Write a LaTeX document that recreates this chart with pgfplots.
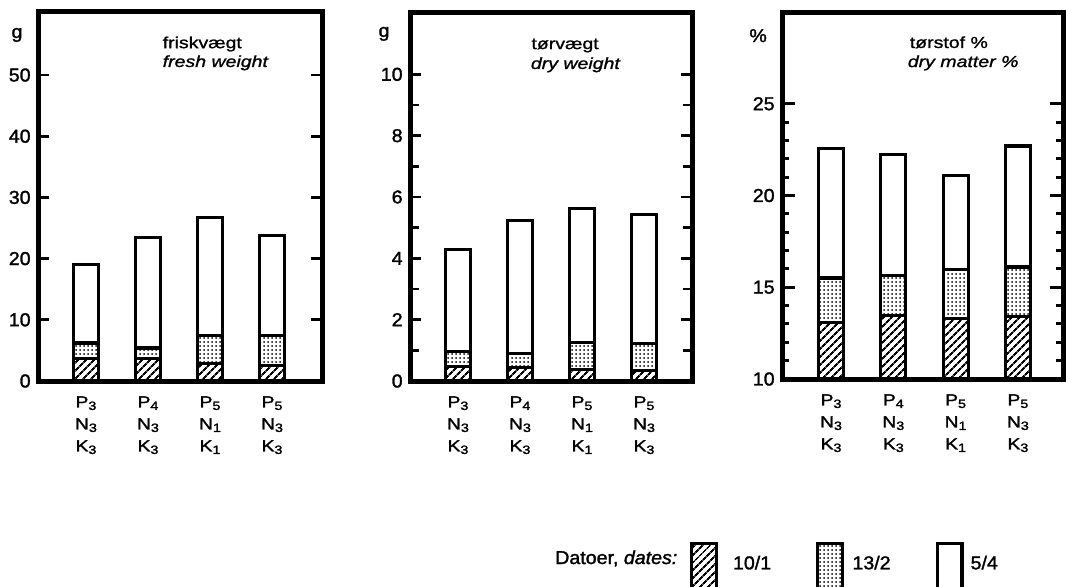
\documentclass[border=0pt]{standalone}
\usepackage{fontspec}
\setmainfont{Liberation Sans}
\newfontfamily\tickfont[FakeStretch=1.05,FakeBold=1.6]{Liberation Sans}
\newfontfamily\titlefont[FakeStretch=1.22,FakeBold=1.2]{Liberation Sans}
\newfontfamily\catfont[FakeStretch=1.2,FakeBold=1.6]{Liberation Sans}
\usepackage{pgfplots}
\pgfplotsset{compat=1.18}
\usetikzlibrary{patterns,patterns.meta}

\newcommand{\sub}[1]{\raisebox{-0.3ex}{\fontsize{9}{9}\selectfont #1}}

\pgfplotsset{
  panel/.style={
    scale only axis,
    ybar stacked, bar width=18.75pt,
    xtick={1,2,3,4},
    xticklabels={{P\sub{3}\\N\sub{3}\\K\sub{3}},
                 {P\sub{4}\\N\sub{3}\\K\sub{3}},
                 {P\sub{5}\\N\sub{1}\\K\sub{1}},
                 {P\sub{5}\\N\sub{3}\\K\sub{3}}},
    axis line style={line width=3.75pt},
    tick style={line width=2.2pt, black},
    major x tick style={draw=none},
    major tick length=8.5pt,
    minor tick length=6.5pt,
    tick align=inside,
    clip mode=individual,
    /pgf/number format/assume math mode=true,
    yticklabel style={font=\tickfont\fontsize{14}{16}\selectfont, xshift=-2pt},
    xticklabel style={align=center, font=\catfont\fontsize{12}{16.5}\selectfont, yshift=-8pt},
  },
  hatch/.style={draw=black, line width=2.4pt, pattern={Lines[angle=45,distance=4pt,line width=1.5pt]}},
  dotty/.style={draw=black, line width=2.4pt, pattern={Dots[distance=3pt,radius=0.75pt]}},
  open/.style={draw=black, line width=2.4pt, fill=white},
}

\begin{document}
\begin{tikzpicture}
\useasboundingbox (0,0) rectangle (799.5pt,439.5pt);

% ---------- panel 1: fresh weight ----------
\begin{axis}[panel, at={(28.5pt,153.75pt)}, anchor=south west,
  width=213pt, height=276.75pt,
  xmin=0.226, xmax=4.806, ymin=0, ymax=60.3,
  ytick={0,10,20,30,40,50}]
\addplot[hatch] coordinates {(1,3.7) (2,3.7) (3,2.9) (4,2.5)};
\addplot[dotty] coordinates {(1,2.5) (2,1.7) (3,4.6) (4,4.9)};
\addplot[open]  coordinates {(1,12.8) (2,18.1) (3,19.2) (4,16.4)};
\node[anchor=base, font=\tickfont\fontsize{14}{16}\selectfont] at (rel axis cs:-0.074,0.9295) {g};
\node[anchor=base west, font=\titlefont\fontsize{12}{14}\selectfont] at (rel axis cs:0.4225,0.902) {friskvægt};
\node[anchor=base west, font=\titlefont\fontsize{12}{14}\selectfont\itshape] at (rel axis cs:0.4225,0.851) {fresh weight};
\end{axis}

% ---------- panel 2: dry weight ----------
\begin{axis}[panel, at={(307.5pt,153.75pt)}, anchor=south west,
  width=211.5pt, height=276pt,
  xmin=0.226, xmax=4.774, ymin=0, ymax=12,
  ytick={0,2,4,6,8,10}, minor ytick={1,3,5,7,9}]
\addplot[hatch] coordinates {(1,0.47) (2,0.43) (3,0.38) (4,0.34)};
\addplot[dotty] coordinates {(1,0.49) (2,0.47) (3,0.88) (4,0.89)};
\addplot[open]  coordinates {(1,3.34) (2,4.34) (3,4.36) (4,4.19)};
\node[anchor=base, font=\tickfont\fontsize{14}{16}\selectfont] at (rel axis cs:-0.092,0.935) {g};
\node[anchor=base west, font=\titlefont\fontsize{12}{14}\selectfont] at (rel axis cs:0.414,0.902) {tørvægt};
\node[anchor=base west, font=\titlefont\fontsize{12}{14}\selectfont\itshape] at (rel axis cs:0.412,0.848) {dry weight};
\end{axis}

% ---------- panel 3: dry matter % ----------
\begin{axis}[panel, at={(586.5pt,155.25pt)}, anchor=south west,
  width=210.75pt, height=275.25pt,
  xmin=0.213, xmax=4.724, ymin=10, ymax=30,
  ytick={10,15,20,25}, minor ytick={11,12,13,14,16,17,18,19,21,22,23,24},
  major tick length=10pt, minor tick length=5pt,
  legend columns=3,
  legend style={at={(-0.3274,-0.444)}, anchor=north west, draw=none, fill=none,
    inner sep=0pt, outer sep=0pt,
    nodes={inner sep=0pt, font=\tickfont\fontsize{14}{16}\selectfont},
    /tikz/every odd column/.append style={column sep=2.25pt},
    /tikz/every even column/.append style={column sep=33.75pt}},
  ]
\addplot[hatch, legend image code/.code={
   \draw[draw=black, line width=2.4pt, pattern={Lines[angle=45,distance=4pt,line width=1.5pt]}] (1.2pt,-20pt) rectangle (19.8pt,15pt);
   \path[draw=none, fill=none, pattern=none] (0pt,0pt) -- (30pt,0pt);}]
  coordinates {(1,13.1) (2,13.45) (3,13.3) (4,13.4)};
\addlegendentry{10/1}
\addplot[dotty, legend image code/.code={
   \draw[draw=black, line width=2.4pt, pattern={Dots[distance=3pt,radius=0.75pt]}] (1.2pt,-20pt) rectangle (19.8pt,15pt);
   \path[draw=none, fill=none, pattern=none] (0pt,0pt) -- (25pt,0pt);}]
  coordinates {(1,2.4) (2,2.2) (3,2.65) (4,2.7)};
\addlegendentry{13/2}
\addplot[open, legend image code/.code={
   \draw[draw=black, line width=2.4pt, fill=none] (1.2pt,-20pt) -- (1.2pt,15pt) -- (19.8pt,15pt) -- (19.8pt,-20pt);
   \path[draw=none, fill=none] (0pt,0pt) -- (24pt,0pt);}]
  coordinates {(1,7.05) (2,6.6) (3,5.15) (4,6.6)};
\addlegendentry{5/4}
\node[anchor=base, font=\tickfont\fontsize{14}{16}\selectfont] at (rel axis cs:-0.085,0.918) {\%};
\node[anchor=base west, font=\titlefont\fontsize{12}{14}\selectfont] at (rel axis cs:0.438,0.902) {tørstof \%};
\node[anchor=base west, font=\titlefont\fontsize{12}{14}\selectfont\itshape] at (rel axis cs:0.431,0.850) {dry matter \%};
\end{axis}

\node[anchor=base east, font=\tickfont\fontsize{14}{16}\selectfont] at (511.5pt,16.5pt) {Datoer, \textit{dates:}};
\end{tikzpicture}
\end{document}
